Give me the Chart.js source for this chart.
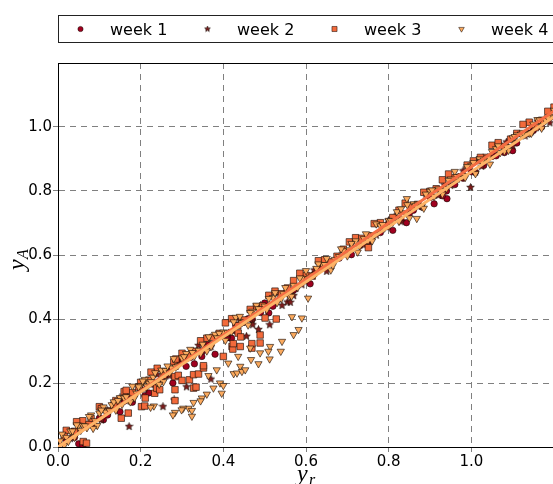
<!DOCTYPE html>
<html>
<head>
<meta charset="utf-8">
<script src="https://cdn.jsdelivr.net/npm/chart.js@4/dist/chart.umd.min.js"></script>
<style>
  html, body { margin: 0; padding: 0; overflow: hidden; background: #fff; }
  canvas { display: block; }
</style>
</head>
<body>
<canvas id="scatterWeeks" width="560" height="484"></canvas>
<script>
// series names, axis ticks
const seriesNames = ['week 1', 'week 2', 'week 3', 'week 4'];
const tickValues = [0, 0.2, 0.4, 0.6, 0.8, 1.0];
const tickLabels = ['0.0', '0.2', '0.4', '0.6', '0.8', '1.0'];

// [y_r, y_A]
const week1 = [
  [0.02,0.02],[0.04,0.03],[0.05,0.01],[0.06,0.005],[0.065,0.012],[0.08,0.07],[0.10,0.09],[0.12,0.10],
  [0.14,0.13],[0.15,0.11],[0.17,0.15],[0.18,0.14],[0.20,0.18],[0.21,0.16],[0.23,0.20],[0.25,0.21],
  [0.27,0.24],[0.278,0.20],[0.30,0.27],[0.32,0.28],[0.33,0.26],[0.348,0.283],[0.35,0.30],[0.37,0.32],
  [0.38,0.29],[0.40,0.35],[0.416,0.341],[0.42,0.34],[0.43,0.38],[0.45,0.39],[0.47,0.40],[0.49,0.42],
  [0.50,0.45],[0.52,0.44],[0.55,0.48],[0.57,0.49],[0.60,0.52],[0.62,0.54],[0.65,0.56],[0.68,0.59],
  [0.70,0.61],[0.73,0.63],[0.75,0.64],[0.78,0.67],[0.80,0.70],[0.83,0.71],[0.843,0.701],[0.85,0.73],
  [0.88,0.75],[0.90,0.78],[0.91,0.76],[0.94,0.80],[0.941,0.776],[0.96,0.82],[0.98,0.84],[1.00,0.86],
  [1.03,0.88],[1.06,0.91],[1.08,0.92],[1.11,0.95],[1.14,0.98],[1.17,1.00],[1.19,1.03],
  [0.11,0.085],[0.16,0.143],[0.22,0.169],[0.26,0.224],[0.31,0.252],[0.36,0.32],[0.41,0.343],[0.46,0.401],
  [0.51,0.419],[0.56,0.482],[0.61,0.51],[0.66,0.578],[0.71,0.601],[0.76,0.659],[0.81,0.677],[0.86,0.74],
  [0.93,0.785],[0.97,0.844],[1.01,0.859],[1.05,0.908],[1.10,0.926],[1.15,0.989]
];
const week2 = [
  [0.03,0.026],[0.06,0.072],[0.09,0.067],[0.12,0.113],[0.15,0.154],[0.18,0.15],[0.21,0.181],[0.24,0.226],
  [0.27,0.222],[0.31,0.277],[0.34,0.317],[0.37,0.313],[0.41,0.353],[0.44,0.398],[0.47,0.394],[0.50,0.44],
  [0.53,0.481],[0.56,0.477],[0.59,0.507],[0.62,0.553],[0.65,0.549],[0.68,0.595],[0.71,0.636],[0.74,0.631],
  [0.77,0.662],[0.80,0.708],[0.83,0.704],[0.86,0.75],[0.89,0.79],[0.92,0.786],[0.95,0.817],[0.98,0.863],
  [1.01,0.859],[1.04,0.904],[1.07,0.945],[1.10,0.941],[1.13,0.972],[1.16,1.018],[1.19,1.013],
  [0.045,0.049],[0.105,0.085],[0.165,0.162],[0.225,0.194],[0.29,0.264],[0.355,0.315],[0.425,0.361],
  [0.49,0.441],[0.575,0.495],[0.635,0.561],[0.695,0.608],[0.755,0.644],[0.815,0.721],[0.875,0.753],
  [0.935,0.819],[0.965,0.84],[1.025,0.877],[1.085,0.953],[1.145,0.985],
  [0.172,0.064],[0.254,0.126],[0.281,0.147],[0.311,0.188],[0.370,0.212],[0.456,0.346],[0.471,0.382],
  [0.485,0.367],[0.512,0.382],[0.542,0.442],[0.555,0.453],[0.562,0.452],[0.570,0.473],[0.998,0.811]
];
const week3 = [
  [0.02,0.052],[0.04,0.049],[0.06,0.082],[0.08,0.089],[0.10,0.126],[0.12,0.113],[0.14,0.145],[0.16,0.173],
  [0.18,0.17],[0.20,0.202],[0.22,0.209],[0.24,0.246],[0.26,0.234],[0.28,0.266],[0.30,0.293],[0.33,0.299],
  [0.36,0.34],[0.39,0.355],[0.42,0.401],[0.45,0.397],[0.48,0.438],[0.51,0.474],[0.54,0.479],[0.57,0.52],
  [0.60,0.536],[0.63,0.582],[0.66,0.578],[0.69,0.618],[0.72,0.654],[0.75,0.66],[0.78,0.701],[0.81,0.717],
  [0.84,0.762],[0.87,0.758],[0.90,0.799],[0.93,0.835],[0.96,0.841],[0.99,0.881],[1.02,0.897],[1.05,0.943],
  [1.08,0.939],[1.11,0.98],[1.14,1.015],[1.17,1.021],[1.20,1.062],
  [0.015,0.033],[0.045,0.079],[0.075,0.07],[0.105,0.12],[0.135,0.131],[0.165,0.177],[0.195,0.188],
  [0.225,0.234],[0.255,0.224],[0.285,0.275],[0.315,0.286],[0.345,0.332],[0.375,0.343],[0.405,0.388],
  [0.435,0.379],[0.465,0.43],[0.495,0.441],[0.525,0.487],[0.555,0.497],[0.585,0.543],[0.615,0.534],
  [0.645,0.585],[0.675,0.596],[0.705,0.641],[0.735,0.652],[0.765,0.698],[0.795,0.689],[0.825,0.74],
  [0.855,0.75],[0.885,0.796],[0.915,0.807],[0.945,0.853],[0.975,0.844],[1.005,0.894],[1.035,0.905],
  [1.065,0.951],[1.095,0.962],[1.125,1.008],[1.155,0.998],[1.185,1.049],
  [0.061,0.017],[0.069,0.012],[0.153,0.090],[0.170,0.106],[0.202,0.126],[0.210,0.128],[0.211,0.153],
  [0.234,0.168],[0.239,0.184],[0.246,0.179],[0.283,0.145],[0.283,0.179],[0.283,0.220],[0.291,0.224],
  [0.300,0.208],[0.318,0.210],[0.328,0.184],[0.334,0.187],[0.328,0.226],[0.340,0.228],[0.352,0.247],
  [0.352,0.254],[0.400,0.283],[0.421,0.314],[0.423,0.306],[0.424,0.323],[0.436,0.356],[0.441,0.314],
  [0.442,0.344],[0.469,0.309],[0.469,0.323],[0.489,0.325],[0.489,0.350],[0.501,0.403],[0.528,0.400],
  [0.751,0.623],[1.022,0.905]
];
const week4 = [
  [0.01,0.04],[0.02,0.03],[0.03,0.05],[0.04,0.03],[0.05,0.068],[0.06,0.067],[0.07,0.06],[0.08,0.10],
  [0.09,0.082],[0.10,0.106],[0.11,0.125],[0.12,0.113],[0.13,0.132],[0.14,0.115],[0.15,0.154],[0.16,0.153],
  [0.17,0.146],[0.18,0.19],[0.19,0.168],[0.20,0.192],[0.21,0.211],[0.22,0.199],[0.23,0.218],[0.24,0.201],
  [0.25,0.24],[0.26,0.239],[0.27,0.232],[0.28,0.276],[0.29,0.254],[0.30,0.278],[0.32,0.305],[0.34,0.302],
  [0.35,0.321],[0.37,0.313],[0.38,0.352],[0.40,0.359],[0.42,0.361],[0.43,0.405],[0.45,0.392],[0.47,0.424],
  [0.48,0.443],[0.50,0.44],[0.52,0.467],[0.53,0.451],[0.55,0.498],[0.57,0.505],[0.58,0.499],[0.60,0.551],
  [0.62,0.538],[0.64,0.57],[0.65,0.589],[0.67,0.586],[0.69,0.613],[0.70,0.597],[0.72,0.644],[0.74,0.651],
  [0.75,0.645],[0.77,0.697],[0.79,0.684],[0.80,0.708],[0.82,0.735],[0.84,0.732],[0.86,0.76],[0.88,0.752],
  [0.90,0.799],[0.92,0.806],[0.94,0.808],[0.96,0.861],[0.98,0.848],[1.00,0.88],[1.02,0.90],[1.04,0.904],
  [1.06,0.932],[1.08,0.924],[1.10,0.966],[1.12,0.978],[1.14,0.98],[1.16,1.023],[1.18,1.02],[1.20,1.052],
  [0.015,0.005],[0.035,0.05],[0.055,0.052],[0.075,0.095],[0.095,0.067],[0.115,0.109],[0.135,0.141],
  [0.155,0.133],[0.175,0.141],[0.195,0.188],[0.215,0.19],[0.235,0.232],[0.255,0.204],[0.275,0.247],
  [0.31,0.292],[0.33,0.284],[0.36,0.30],[0.39,0.355],[0.41,0.358],[0.44,0.408],[0.46,0.381],[0.49,0.431],
  [0.51,0.464],[0.54,0.464],[0.56,0.472],[0.59,0.527],[0.61,0.53],[0.63,0.572],[0.66,0.553],[0.68,0.595],
  [0.71,0.636],[0.73,0.628],[0.76,0.644],[0.78,0.691],[0.81,0.702],[0.83,0.744],[0.85,0.716],[0.87,0.758],
  [0.89,0.79],[0.91,0.783],[0.93,0.79],[0.95,0.837],[0.97,0.839],[0.99,0.876],[1.01,0.854],[1.03,0.896],
  [1.05,0.923],[1.07,0.92],[1.09,0.927],[1.11,0.975],[1.13,0.977],[1.15,1.009],[1.17,0.996],[1.19,1.033],
  [0.005,0.019],[0.025,0.017],[0.045,0.069],[0.065,0.066],[0.085,0.058],[0.105,0.115],[0.125,0.113],
  [0.145,0.145],[0.165,0.157],[0.185,0.154],[0.205,0.206],[0.225,0.204],[0.245,0.196],[0.265,0.253],
  [0.285,0.25],[0.305,0.282],[0.325,0.295],[0.345,0.292],[0.365,0.344],[0.385,0.341],[0.405,0.333],
  [0.425,0.391],[0.445,0.388],[0.465,0.42],[0.485,0.432],[0.505,0.429],[0.525,0.482],[0.545,0.479],
  [0.565,0.471],[0.585,0.528],[0.605,0.525],[0.625,0.558],[0.645,0.57],[0.665,0.567],[0.685,0.619],
  [0.705,0.616],[0.725,0.609],[0.745,0.666],[0.765,0.663],[0.785,0.695],[0.805,0.707],[0.825,0.705],
  [0.845,0.757],[0.865,0.754],[0.885,0.746],[0.905,0.803],[0.925,0.801],[0.945,0.833],[0.965,0.845],
  [0.985,0.842],[1.005,0.889],[1.025,0.892],[1.045,0.884],[1.065,0.941],[1.085,0.938],[1.105,0.97],
  [1.125,0.983],[1.145,0.98],[1.165,1.022],[1.185,1.029],
  [0.605,0.465],[0.566,0.407],[0.590,0.403],[0.582,0.367],[0.570,0.351],[0.542,0.330],[0.539,0.299],
  [0.513,0.314],[0.509,0.299],[0.489,0.294],[0.512,0.275],[0.465,0.309],[0.485,0.260],[0.467,0.273],
  [0.436,0.283],[0.441,0.252],[0.425,0.229],[0.433,0.231],[0.445,0.236],[0.453,0.241],[0.412,0.262],
  [0.384,0.241],[0.364,0.223],[0.392,0.200],[0.400,0.192],[0.396,0.168],[0.376,0.184],[0.360,0.165],
  [0.348,0.153],[0.328,0.139],[0.316,0.121],[0.324,0.114],[0.303,0.121],[0.283,0.108],[0.278,0.100],
  [0.299,0.116],[0.324,0.096],[0.345,0.144],[0.232,0.128],[0.224,0.124],[0.844,0.776],[0.868,0.714]
];
// fitted lines (end points)
const fitWeek3 = [[0, 0], [1.2, 1.05]];
const fitWeek4 = [[0, 0], [1.2, 1.032]];

const colors = ['#a0001f', '#7e1c1c', '#f26a3b', '#fbaa5e'];
const edgeColor = 'rgba(25,12,6,0.9)';

const toXY = arr => arr.map(p => ({ x: p[0], y: p[1] }));

// 5-point filled star used as point style
const starImage = (size, fill) => {
  const c = document.createElement('canvas');
  c.width = c.height = size;
  const g = c.getContext('2d');
  const r = size / 2 - 0.5, ri = r * 0.45;
  g.beginPath();
  for (let i = 0; i < 10; i++) {
    const a = -Math.PI / 2 + i * Math.PI / 5;
    const rr = i % 2 ? ri : r;
    g.lineTo(size / 2 + rr * Math.cos(a), size / 2 + rr * Math.sin(a));
  }
  g.closePath();
  g.fillStyle = fill; g.fill();
  g.strokeStyle = edgeColor; g.lineWidth = 0.7; g.stroke();
  return c;
};

const pointStyles = [
  { pointStyle: 'circle', radius: 3.2, rotation: 0 },
  { pointStyle: starImage(9, colors[1]), radius: 4, rotation: 0 },
  { pointStyle: 'rect', radius: 4.6, rotation: 0 },
  { pointStyle: 'triangle', radius: 4.2, rotation: 180 }
];
const legendStyles = [
  { pointStyle: 'circle', radius: 2.6, rotation: 0 },
  { pointStyle: starImage(7, colors[1]), radius: 3, rotation: 0 },
  { pointStyle: 'rect', radius: 3.6, rotation: 0 },
  { pointStyle: 'triangle', radius: 3.2, rotation: 180 }
];

const weekSets = [week1, week2, week3, week4].map((arr, i) => ({
  label: seriesNames[i],
  data: toXY(arr),
  pointStyle: pointStyles[i].pointStyle,
  pointRadius: pointStyles[i].radius,
  pointRotation: pointStyles[i].rotation,
  backgroundColor: colors[i],
  borderColor: edgeColor,
  borderWidth: 0.7,
  showLine: false,
  order: 5 - i
}));

const fitSets = [
  { data: toXY(fitWeek4), borderColor: '#fdb468', borderWidth: 3, order: 0 },
  { data: toXY(fitWeek3), borderColor: '#f46d43', borderWidth: 3, order: 1 }
].map(d => Object.assign(d, { type: 'line', showLine: true, pointRadius: 0, fill: false, tension: 0 }));

// legend box, axis titles, top spine
const decorPlugin = {
  id: 'decor',
  afterDraw(chart) {
    const ctx = chart.ctx, a = chart.chartArea;
    ctx.save();
    // top spine
    ctx.strokeStyle = '#000'; ctx.lineWidth = 1;
    ctx.beginPath(); ctx.moveTo(a.left, Math.round(a.top) + 0.5); ctx.lineTo(a.right + 10, Math.round(a.top) + 0.5); ctx.stroke();

    // legend
    ctx.fillStyle = '#fff';
    ctx.fillRect(58.5, 15.5, 600, 27);
    ctx.strokeStyle = '#222';
    ctx.strokeRect(58.5, 15.5, 600, 27);
    ctx.font = '16px "DejaVu Sans"';
    ctx.textBaseline = 'alphabetic';
    ctx.textAlign = 'left';
    seriesNames.forEach((name, i) => {
      const mx = 80.5 + i * 127, tx = 110 + i * 127;
      ctx.fillStyle = colors[i]; ctx.strokeStyle = edgeColor; ctx.lineWidth = 0.6;
      Chart.helpers.drawPoint(ctx, { pointStyle: legendStyles[i].pointStyle, radius: legendStyles[i].radius, rotation: legendStyles[i].rotation, borderWidth: 0.6 }, mx, 29);
      ctx.fillStyle = '#000';
      ctx.fillText(name, tx, 35);
    });

    // x title y_r
    ctx.fillStyle = '#000';
    const cx = (a.left + a.right) / 2;
    ctx.font = 'italic 24px "Liberation Serif"';
    ctx.fillText('y', cx - 9, 481);
    ctx.font = 'italic 16px "Liberation Serif"';
    ctx.fillText('r', cx + 3, 485);

    // y title y_A (rotated)
    ctx.translate(24, (a.top + a.bottom) / 2 + 3);
    ctx.rotate(-Math.PI / 2);
    ctx.font = 'italic 24px "Liberation Serif"';
    ctx.fillText('y', -12, 0);
    ctx.font = 'italic 16px "Liberation Serif"';
    ctx.fillText('A', -1, 4);
    ctx.restore();
  }
};

const gridColor = '#808080';
const axisOpts = (fitFn) => ({
  type: 'linear',
  min: 0,
  max: 1.2,
  afterBuildTicks: s => { s.ticks = tickValues.map(v => ({ value: v })); },
  afterFit: fitFn,
  ticks: {
    callback: (v, i) => tickLabels[i],
    color: '#000',
    font: { family: 'DejaVu Sans', size: 15 },
    padding: 1,
    maxRotation: 0,
    autoSkip: false
  },
  grid: {
    color: c => (c.tick && c.tick.value === 0 ? 'rgba(0,0,0,0)' : gridColor),
    tickColor: gridColor,
    tickLength: 5,
    lineWidth: 1
  },
  border: { display: true, color: '#000', width: 1, dash: [6, 5] }
});

new Chart(document.getElementById('scatterWeeks'), {
  type: 'scatter',
  data: { datasets: [...fitSets, ...weekSets] },
  options: {
    responsive: false,
    maintainAspectRatio: false,
    devicePixelRatio: 1,
    animation: false,
    events: [],
    layout: { padding: { top: 63, right: 6, bottom: 0, left: 0 } },
    plugins: { legend: { display: false }, tooltip: { enabled: false }, title: { display: false } },
    scales: {
      x: axisOpts(s => { s.height = 37; }),
      y: axisOpts(s => { s.width = 58; })
    }
  },
  plugins: [decorPlugin]
});
</script>
</body>
</html>
